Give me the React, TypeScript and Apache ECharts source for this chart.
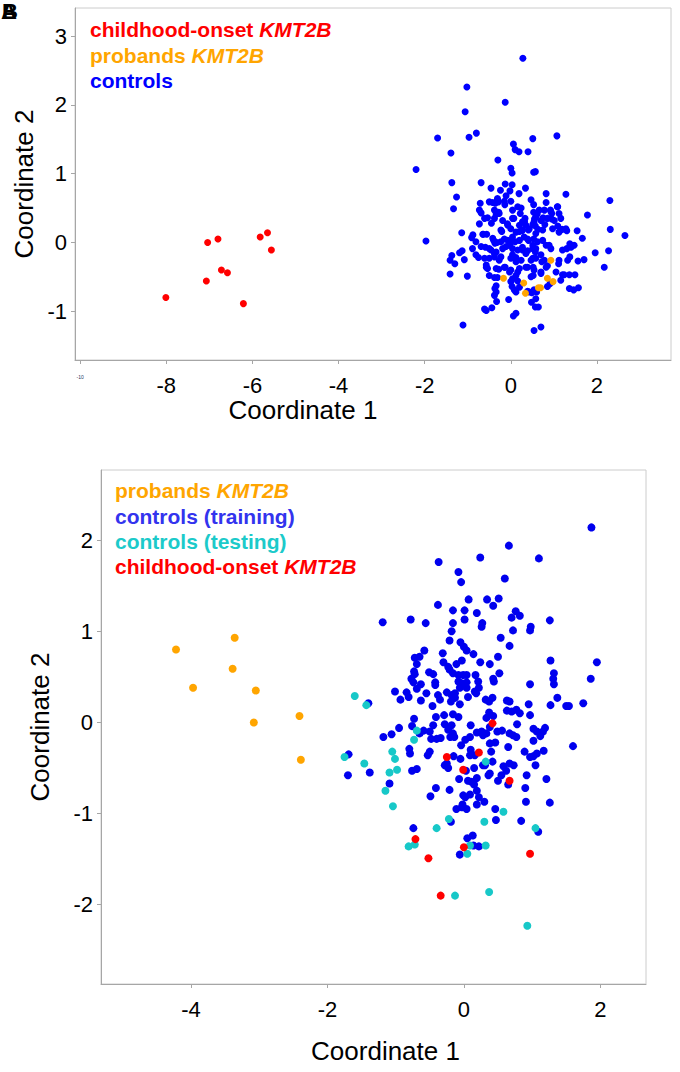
import React, { useEffect, useRef } from 'react';
import * as echarts from 'echarts';

// panel A (upper)
const topChildhood: number[][] = [
  [-7.04, 0.0], [-6.8, 0.05], [-5.82, 0.08], [-5.65, 0.14], [-5.56, -0.11],
  [-6.72, -0.4], [-6.58, -0.44], [-7.07, -0.56], [-8.01, -0.8], [-6.21, -0.89],
];
const topProbands: number[][] = [
  [0.93, -0.26], [-0.17, -0.52], [0.3, -0.59], [0.85, -0.52], [0.98, -0.57],
  [0.64, -0.66], [0.69, -0.66], [0.34, -0.74],
];
const topControls: number[][] = [
  [0.28, 2.68], [-1.02, 2.26], [-0.13, 2.04], [-1.06, 1.9], [-1.7, 1.52], [-0.97, 1.53], [-0.8, 1.59],
  [0.51, 1.51], [1.07, 1.55], [0.06, 1.43], [0.1, 1.35], [0.19, 1.32], [0.4, 1.32], [-1.39, 1.3],
  [-0.3, 1.2], [-2.2, 1.06], [0.0, 1.08], [0.03, 1.01], [0.53, 1.02], [0.57, 1.03],
  [-1.37, 0.87], [-0.69, 0.87], [-0.13, 0.85], [0.03, 0.84], [-0.46, 0.79], [-0.24, 0.76], [-0.02, 0.75],
  [0.34, 0.79], [-1.26, 0.66], [-0.11, 0.68], [0.19, 0.71], [0.82, 0.71], [1.28, 0.7], [-0.31, 0.64],
  [-0.29, 0.59], [-0.42, 0.58], [-0.36, 0.57], [-0.71, 0.57], [-0.14, 0.55], [0.0, 0.6], [0.53, 0.55],
  [0.82, 0.58], [2.3, 0.61], [-1.33, 0.49], [-0.73, 0.47], [0.04, 0.47], [0.24, 0.5], [0.78, 0.47],
  [1.09, 0.52], [0.92, 0.47], [-0.69, 0.43], [-0.28, 0.44], [-0.34, 0.41], [0.22, 0.42], [0.53, 0.44],
  [0.61, 0.41], [0.95, 0.42], [1.78, 0.4], [-0.54, 0.36], [-0.38, 0.35], [0.33, 0.35], [0.55, 0.34],
  [0.75, 0.36], [0.95, 0.34], [1.16, 0.35], [-0.73, 0.27], [-0.45, 0.28], [-0.08, 0.27], [0.07, 0.35],
  [0.32, 0.3], [0.35, 0.25], [0.54, 0.3], [0.57, 0.24], [0.79, 0.26], [1.09, 0.24], [1.19, 0.19],
  [1.3, 0.17], [1.54, 0.17], [2.31, 0.19], [-1.14, 0.14], [-0.88, 0.11], [-0.91, 0.07], [-0.64, 0.12],
  [-0.56, 0.12], [-0.21, 0.16], [0.12, 0.15], [0.2, 0.16], [0.26, 0.17], [0.41, 0.18], [0.63, 0.19],
  [1.66, 0.06], [2.65, 0.1], [-1.97, 0.02], [-0.4, 0.03], [-0.32, 0.0], [-0.37, -0.01], [-0.15, 0.05],
  [-0.07, 0.03], [0.0, 0.0], [0.1, 0.01], [0.2, 0.03], [0.41, 0.03], [0.53, 0.05], [0.62, 0.01],
  [0.74, 0.03], [0.89, -0.04], [1.37, -0.02], [1.47, -0.04], [-0.69, -0.06], [-0.59, -0.07],
  [-1.13, -0.12], [-1.19, -0.15], [-0.46, -0.11], [-0.34, -0.14], [-0.11, -0.06], [0.04, -0.09],
  [0.16, -0.11], [0.27, -0.07], [0.39, -0.12], [0.51, -0.09], [0.57, -0.14], [1.2, -0.11], [1.3, -0.09],
  [1.4, -0.07], [1.96, -0.15], [2.27, -0.12], [-1.37, -0.19], [-1.41, -0.26], [-1.3, -0.31],
  [-1.08, -0.25], [-0.81, -0.18], [-0.75, -0.22], [-0.5, -0.23], [-0.38, -0.21], [-0.27, -0.26],
  [0.0, -0.23], [0.12, -0.22], [0.24, -0.26], [0.47, -0.26], [0.58, -0.23], [0.72, -0.28], [1.11, -0.31],
  [1.32, -0.26], [1.37, -0.21], [1.56, -0.27], [1.7, -0.25], [2.17, -0.36], [-0.57, -0.36], [-0.54, -0.38],
  [-0.28, -0.39], [-0.13, -0.36], [0.0, -0.4], [0.16, -0.43], [0.35, -0.36], [0.52, -0.36], [0.7, -0.43],
  [0.82, -0.36], [0.85, -0.34], [-1.41, -0.46], [-1.01, -0.49], [-0.38, -0.51], [-0.31, -0.51],
  [0.04, -0.53], [0.16, -0.56], [0.47, -0.5], [0.52, -0.48], [1.2, -0.47], [1.36, -0.47], [1.49, -0.47],
  [0.85, -0.64], [0.91, -0.6], [-0.37, -0.67], [-0.34, -0.72], [0.03, -0.64], [0.08, -0.69], [0.12, -0.72],
  [0.39, -0.71], [0.49, -0.73], [0.6, -0.72], [1.36, -0.67], [1.46, -0.69], [1.57, -0.66], [-0.38, -0.77],
  [-0.33, -0.86], [-0.05, -0.83], [0.58, -0.82], [0.64, -0.94], [0.57, -0.94], [0.48, -0.87],
  [-0.61, -0.97], [-0.57, -0.99], [-0.44, -0.95], [0.06, -1.07], [0.12, -1.03], [-1.11, -1.2],
  [0.54, -1.28], [0.7, -1.23],
  // dense core
  [-0.5, 0.59], [-0.31, 0.62], [-0.15, 0.6], [0.16, 0.52], [0.47, 0.62], [1.08, 0.52],
  [-0.38, 0.47], [-0.27, 0.42], [0.66, 0.47], [0.93, 0.45], [1.12, 0.42],
  [-0.61, 0.35], [-0.19, 0.32], [0.04, 0.35], [0.27, 0.3], [0.58, 0.37], [0.7, 0.32], [0.85, 0.35],
  [1.01, 0.32], [-0.07, 0.25], [0.2, 0.25], [0.51, 0.26],
  [-0.65, 0.12], [-0.23, 0.18], [0.0, 0.2], [0.27, 0.18], [0.43, 0.2], [0.58, 0.13], [0.74, 0.18],
  [0.04, 0.08], [0.31, 0.08], [0.97, 0.2], [1.12, 0.15], [1.28, 0.2],
  [-0.81, 0.01], [-0.42, 0.06], [-0.23, 0.01], [-0.03, -0.04], [0.39, 0.05], [0.51, -0.04],
  [0.82, -0.04], [0.93, -0.09], [-0.89, -0.09], [-0.5, -0.09], [-0.19, -0.09], [0.27, -0.11], [0.58, -0.09],
  [-0.61, -0.23], [-0.38, -0.16], [-0.23, -0.21], [0.04, -0.18], [0.12, -0.28], [0.35, -0.16],
  [0.51, -0.23], [0.7, -0.18], [0.78, -0.26], [1.12, -0.26],
  [-0.57, -0.33], [-0.34, -0.38], [-0.15, -0.36], [-0.03, -0.43], [0.2, -0.38], [0.39, -0.36],
  [0.54, -0.4], [0.7, -0.45], [-0.5, -0.48], [0.12, -0.48], [1.05, -0.43], [1.24, -0.47],
  [-0.34, -0.63], [0.0, -0.57], [0.2, -0.65], [0.43, -0.72], [0.54, -0.69], [1.16, -0.55],
];

// panel B (lower)
const botProbands: number[][] = [
  [-4.22, 0.8], [-3.36, 0.93], [-3.39, 0.59], [-3.97, 0.38], [-3.05, 0.35], [-3.08, 0.0],
  [-2.41, 0.07], [-2.39, -0.41],
];
const botTraining: number[][] = [
  [1.87, 2.14], [0.66, 1.94], [1.1, 1.8], [0.24, 1.81], [-0.37, 1.76], [-0.08, 1.65], [-0.04, 1.54],
  [0.6, 1.58], [0.07, 1.35], [0.34, 1.35], [0.51, 1.36], [0.43, 1.28], [-0.38, 1.29], [-0.16, 1.23],
  [0.01, 1.23], [0.19, 1.2], [0.76, 1.22], [0.82, 1.17], [0.7, 1.15], [1.26, 1.12], [-1.19, 1.1],
  [-0.78, 1.13], [-0.56, 1.09], [-0.16, 1.09], [0.01, 1.13], [0.27, 1.09], [0.26, 1.05], [0.98, 1.05],
  [0.97, 1.01], [0.72, 1.01], [-0.18, 1.0], [0.54, 0.93], [-0.21, 0.9], [-0.05, 0.88], [0.0, 0.83],
  [0.04, 0.79], [0.67, 0.84], [-0.58, 0.79], [-0.31, 0.76], [0.14, 0.75], [0.5, 0.72], [-0.72, 0.71],
  [-0.65, 0.72], [-0.69, 0.64], [-0.3, 0.66], [-0.23, 0.61], [-0.11, 0.64], [-0.03, 0.68], [0.24, 0.66],
  [0.38, 0.64], [1.27, 0.68], [1.95, 0.66], [-0.73, 0.56], [-0.72, 0.53], [-0.51, 0.55], [-0.45, 0.53],
  [-0.21, 0.58], [-0.16, 0.54], [-0.08, 0.52], [-0.01, 0.52], [0.04, 0.52], [0.17, 0.52], [0.52, 0.54],
  [0.43, 0.48], [0.44, 0.45], [1.32, 0.54], [1.31, 0.48], [1.32, 0.42], [1.86, 0.48], [-0.77, 0.48],
  [-0.74, 0.44], [-0.63, 0.42], [-0.42, 0.44], [-0.42, 0.41], [-0.08, 0.45], [-0.03, 0.43], [0.04, 0.44],
  [0.04, 0.38], [-0.06, 0.38], [0.21, 0.45], [0.22, 0.38], [0.16, 0.34], [0.97, 0.42], [-1.01, 0.34],
  [-0.84, 0.33], [-0.81, 0.28], [-0.69, 0.37], [-0.93, 0.25], [-0.63, 0.24], [-0.55, 0.32], [-0.38, 0.3],
  [-0.35, 0.25], [-0.25, 0.33], [-0.18, 0.3], [-0.13, 0.27], [-0.19, 0.23], [-0.06, 0.2], [-0.13, 0.32],
  [0.06, 0.28], [0.18, 0.32], [0.32, 0.25], [0.37, 0.23], [0.42, 0.27], [0.63, 0.24], [0.67, 0.23],
  [0.95, 0.2], [1.27, 0.19], [1.37, 0.27], [1.5, 0.18], [1.54, 0.18], [1.75, 0.21], [-0.46, 0.18],
  [-0.29, 0.08], [-0.41, 0.06], [-0.16, 0.09], [-0.08, 0.06], [-0.73, 0.04], [0.37, 0.11], [0.43, 0.07],
  [0.33, 0.05], [0.63, 0.13], [0.7, 0.12], [0.77, 0.14], [0.82, 0.1], [0.97, 0.08], [-1.4, 0.21],
  [-1.18, -0.16], [-1.06, -0.13], [-0.95, -0.06], [-0.76, -0.04], [-0.65, -0.12], [-0.59, -0.09],
  [-0.5, -0.1], [-0.45, -0.03], [-0.4, -0.18], [-0.34, -0.17], [-0.48, -0.18], [-0.28, -0.02],
  [-0.18, -0.03], [-0.23, -0.08], [-0.16, -0.12], [-0.2, -0.16], [-0.14, -0.16], [0.1, -0.03],
  [0.19, -0.11], [0.26, -0.1], [0.28, -0.14], [0.33, -0.12], [0.38, -0.05], [0.49, -0.1], [0.56, -0.09],
  [0.38, -0.23], [0.46, -0.22], [0.67, -0.12], [0.77, -0.16], [0.72, -0.14], [0.78, -0.02], [1.02, -0.07],
  [1.07, -0.1], [1.19, -0.06], [1.16, -0.1], [1.12, -0.15], [1.02, -0.2], [1.6, -0.26], [-0.04, -0.25],
  [0.02, -0.19], [0.09, -0.16], [0.65, -0.27], [-1.69, -0.35], [-1.7, -0.58], [-1.38, -0.55],
  [-1.09, -0.67], [-0.8, -0.29], [-0.79, -0.34], [-0.53, -0.36], [-0.5, -0.32], [-0.15, -0.37],
  [-0.05, -0.4], [-0.28, -0.47], [-0.23, -0.5], [-0.25, -0.45], [-0.76, -0.53], [-0.69, -0.51],
  [0.1, -0.3], [0.09, -0.36], [0.16, -0.36], [0.4, -0.32], [0.42, -0.43], [0.31, -0.47], [0.03, -0.53],
  [0.15, -0.5], [0.28, -0.47], [0.38, -0.56], [0.36, -0.58], [0.58, -0.48], [0.62, -0.53], [0.67, -0.45],
  [0.73, -0.47], [0.55, -0.58], [0.92, -0.58], [1.05, -0.47], [1.07, -0.34], [1.02, -0.37], [0.97, -0.38],
  [1.17, -0.31], [0.89, -0.32], [1.21, -0.62], [1.26, -0.88], [0.65, -0.68], [-0.07, -0.62], [0.06, -0.64],
  [0.11, -0.65], [0.19, -0.61], [0.15, -0.68], [0.5, -0.64], [0.9, -0.72], [-0.41, -0.72], [-0.49, -0.81],
  [-0.21, -0.74], [0.19, -0.75], [0.22, -0.82], [-0.01, -0.8], [0.02, -0.82], [0.09, -0.79], [0.3, -0.87],
  [0.19, -0.9], [-0.11, -0.95], [-0.03, -0.93], [0.04, -0.95], [-0.02, -0.9], [0.91, -0.87], [0.46, -0.95],
  [0.47, -1.07], [0.84, -1.08], [-0.19, -1.09], [-0.74, -1.16], [1.09, -1.2], [0.05, -1.27], [0.13, -1.24],
  [0.14, -1.35], [0.22, -1.36], [-0.06, -1.45],
];
const botTesting: number[][] = [
  [-1.6, 0.29], [-1.43, 0.19], [-0.69, -0.09], [-0.73, -0.19], [-1.75, -0.38], [-1.46, -0.45],
  [-1.05, -0.32], [-1.01, -0.4], [-1.09, -0.55], [-0.98, -0.52], [-1.15, -0.75], [-1.04, -0.92],
  [0.32, -0.43], [0.58, -0.98], [0.3, -1.09], [-0.22, -1.06], [-0.4, -1.16], [1.05, -1.16],
  [-0.81, -1.36], [-0.72, -1.34], [0.09, -1.35], [0.32, -1.35], [0.05, -1.44], [-0.13, -1.9],
  [0.37, -1.86], [0.93, -2.23],
];
const botChildhood: number[][] = [
  [0.42, -0.01], [-0.25, -0.38], [0.22, -0.33], [-0.01, -0.52], [0.67, -0.64], [-0.71, -1.28],
  [0.0, -1.37], [-0.52, -1.49], [0.97, -1.44], [-0.34, -1.9],
];

const topXTicks = [-10, -8, -6, -4, -2, 0, 2];
const topYTicks = [-1, 0, 1, 2, 3];
const botXTicks = [-4, -2, 0, 2];
const botYTicks = [-2, -1, 0, 1, 2];

const FONT = '"Liberation Sans", Arial, sans-serif';
const AXIS_GREY = '#a6a6a6';

const legendLine = (text: string, italic: string, color: string, left: number, top: number) => ({
  text: italic ? `{n|${text} }{i|${italic}}` : `{n|${text}}`,
  left,
  top,
  padding: 0,
  textStyle: {
    rich: {
      n: { fontFamily: FONT, fontSize: 21, fontWeight: 'bold', color },
      i: { fontFamily: FONT, fontSize: 21, fontWeight: 'bold', fontStyle: 'italic', color },
    },
  },
});

const xAxisBase = (gridIndex: number, min: number, max: number, ticks: number[], namePad: number[], nameGap: number) => ({
  type: 'value',
  gridIndex,
  min,
  max,
  name: 'Coordinate 1',
  nameLocation: 'middle',
  nameGap,
  nameTextStyle: { fontFamily: FONT, fontSize: 26, color: '#000', padding: namePad },
  splitLine: { show: false },
  axisLine: { show: true, onZero: false, lineStyle: { color: AXIS_GREY, width: 1 } },
  axisTick: { show: true, length: 4, lineStyle: { color: AXIS_GREY }, customValues: ticks },
  axisLabel: {
    customValues: ticks,
    fontFamily: FONT,
    fontSize: 22,
    color: '#000',
    margin: 14,
    formatter: (v: number) => (v === -10 ? '{s|-10}' : String(v)),
    rich: { s: { fontSize: 5, color: '#1f3864', fontFamily: FONT } },
  },
});

const yAxisBase = (gridIndex: number, min: number, max: number, ticks: number[], nameGap: number) => ({
  type: 'value',
  gridIndex,
  min,
  max,
  name: 'Coordinate 2',
  nameLocation: 'middle',
  nameGap,
  nameTextStyle: { fontFamily: FONT, fontSize: 26, color: '#000' },
  splitLine: { show: false },
  axisLine: { show: true, onZero: false, lineStyle: { color: AXIS_GREY, width: 1 } },
  axisTick: { show: true, length: 4, lineStyle: { color: AXIS_GREY }, customValues: ticks },
  axisLabel: { customValues: ticks, fontFamily: FONT, fontSize: 22, color: '#000', margin: 8 },
});

const scatter = (name: string, data: number[][], color: string, idx: number, size: number) => ({
  name,
  type: 'scatter',
  xAxisIndex: idx,
  yAxisIndex: idx,
  data,
  symbolSize: size,
  itemStyle: { color, opacity: 1 },
});

const App: React.FC = () => {
  const chartRef = useRef<HTMLDivElement>(null);

  useEffect(() => {
    document.body.style.margin = '0';
    if (!chartRef.current) return;
    const chart = echarts.init(chartRef.current, null, { renderer: 'svg' });

    const option: any = {
      animation: false,
      backgroundColor: '#fff',
      title: [
        legendLine('childhood-onset', 'KMT2B', '#ff0000', 90, 19),
        legendLine('probands', 'KMT2B', '#ffa500', 90, 45),
        legendLine('controls', '', '#0000ff', 90, 70),
        legendLine('probands', 'KMT2B', '#ffa500', 115, 480),
        legendLine('controls (training)', '', '#3333ee', 115, 506),
        legendLine('controls (testing)', '', '#1ccaca', 115, 531),
        legendLine('childhood-onset', 'KMT2B', '#ff0000', 115, 556),
      ],
      graphic: [
        { type: 'text', left: 1, top: 0, style: { text: 'A', font: `bold 22px ${FONT}`, fill: '#000' } },
        { type: 'text', left: 2, top: 0, style: { text: 'B', font: `bold 22px ${FONT}`, fill: '#000' } },
      ],
      grid: [
        { left: 75, right: 9, top: 8, bottom: 712, show: true, borderColor: '#cccccc', borderWidth: 1 },
        { left: 101, right: 34, top: 470, bottom: 88, show: true, borderColor: '#cccccc', borderWidth: 1 },
      ],
      xAxis: [
        xAxisBase(0, -10.12, 3.72, topXTicks, [0, 140, 0, 0], 30),
        xAxisBase(1, -5.32, 2.67, botXTicks, [0, 0, 0, 24], 54),
      ],
      yAxis: [
        yAxisBase(0, -1.71, 3.41, topYTicks, 30),
        yAxisBase(1, -2.87, 2.77, botYTicks, 48),
      ],
      series: [
        scatter('controls', topControls, '#0000ff', 0, 7),
        scatter('probands KMT2B', topProbands, '#ffa500', 0, 7),
        scatter('childhood-onset KMT2B', topChildhood, '#ff0000', 0, 7),
        scatter('controls (training)', botTraining, '#0000ee', 1, 8),
        scatter('controls (testing)', botTesting, '#17c8c8', 1, 8),
        scatter('childhood-onset KMT2B', botChildhood, '#ff0000', 1, 8),
        scatter('probands KMT2B', botProbands, '#ffa500', 1, 8),
      ],
    };

    chart.setOption(option);
    return () => {
      chart.dispose();
    };
  }, []);

  return <div ref={chartRef} style={{ width: 680, height: 1072 }} />;
};

export default App;
